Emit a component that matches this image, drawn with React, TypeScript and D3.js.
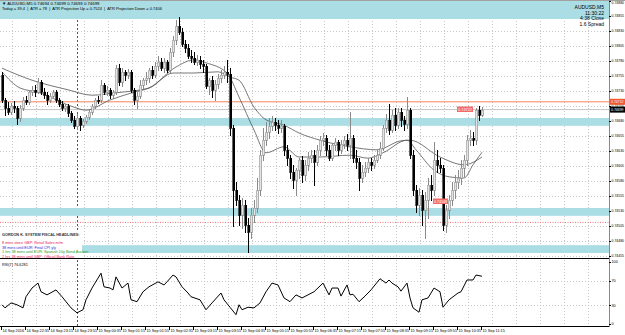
// App.tsx
// AUDUSD M5 candle chart with MAs, zones and an RSI(7) sub-window, drawn with d3 scales
import React from 'react';
import * as d3 from 'd3';

const W = 625;
const H = 335;

// OHLC, one entry per 5 minute bar (bar 0 = 14 Sep 21:55)
const opens = [
  0.74757, 0.74715, 0.74702, 0.74695, 0.74705, 0.74702, 0.74685, 0.74702, 0.74715, 0.74712,
  0.74728, 0.74732, 0.74728, 0.74745, 0.74728, 0.74723, 0.74715, 0.74722, 0.74728, 0.74715,
  0.74708, 0.74702, 0.74705, 0.74693, 0.74682, 0.74672, 0.74685, 0.74673, 0.74680, 0.74687,
  0.74695, 0.74705, 0.74715, 0.74715, 0.74740, 0.74728, 0.74732, 0.74723, 0.74728, 0.74768,
  0.74745, 0.74762, 0.74757, 0.74762, 0.74732, 0.74715, 0.74722, 0.74740, 0.74748, 0.74752,
  0.74765, 0.74757, 0.74772, 0.74778, 0.74768, 0.74778, 0.74765, 0.74795, 0.74815, 0.74838,
  0.74828, 0.74808, 0.74802, 0.74788, 0.74785, 0.74778, 0.74782, 0.74775, 0.74772, 0.74738,
  0.74748, 0.74732, 0.74742, 0.74752, 0.74757, 0.74762, 0.74758, 0.74668, 0.74565, 0.74548,
  0.74523, 0.74540, 0.74507, 0.74495, 0.74523, 0.74535, 0.74565, 0.74623, 0.74648, 0.74662,
  0.74672, 0.74678, 0.74673, 0.74668, 0.74672, 0.74632, 0.74618, 0.74595, 0.74582, 0.74598,
  0.74615, 0.74590, 0.74607, 0.74618, 0.74623, 0.74612, 0.74632, 0.74648, 0.74652, 0.74632,
  0.74618, 0.74640, 0.74645, 0.74632, 0.74642, 0.74648, 0.74640, 0.74652, 0.74618, 0.74612,
  0.74585, 0.74595, 0.74602, 0.74612, 0.74607, 0.74615, 0.74623, 0.74635, 0.74668, 0.74682,
  0.74665, 0.74690, 0.74673, 0.74695, 0.74682, 0.74675, 0.74698, 0.74623, 0.74565, 0.74540,
  0.74557, 0.74532, 0.74548, 0.74573, 0.74565, 0.74615, 0.74607, 0.74602, 0.74507, 0.74532,
  0.74548, 0.74565, 0.74578, 0.74585, 0.74602, 0.74615, 0.74648, 0.74652, 0.74648, 0.74698,
  0.74690,
];
const highs = [
  0.74762, 0.74718, 0.74712, 0.74710, 0.74713, 0.74705, 0.74707, 0.74720, 0.74722, 0.74732,
  0.74738, 0.74740, 0.74752, 0.74748, 0.74735, 0.74728, 0.74727, 0.74732, 0.74732, 0.74718,
  0.74713, 0.74708, 0.74708, 0.74697, 0.74688, 0.74692, 0.74688, 0.74683, 0.74690, 0.74698,
  0.74708, 0.74718, 0.74722, 0.74748, 0.74743, 0.74738, 0.74735, 0.74732, 0.74773, 0.74775,
  0.74768, 0.74765, 0.74767, 0.74765, 0.74735, 0.74728, 0.74748, 0.74752, 0.74762, 0.74768,
  0.74772, 0.74778, 0.74788, 0.74785, 0.74785, 0.74782, 0.74802, 0.74822, 0.74848, 0.74853,
  0.74835, 0.74815, 0.74808, 0.74798, 0.74795, 0.74790, 0.74788, 0.74782, 0.74775, 0.74752,
  0.74755, 0.74748, 0.74758, 0.74765, 0.74772, 0.74782, 0.74768, 0.74673, 0.74578, 0.74557,
  0.74552, 0.74548, 0.74518, 0.74535, 0.74548, 0.74585, 0.74632, 0.74668, 0.74678, 0.74685,
  0.74688, 0.74685, 0.74682, 0.74682, 0.74675, 0.74640, 0.74623, 0.74607, 0.74602, 0.74618,
  0.74622, 0.74615, 0.74628, 0.74632, 0.74632, 0.74640, 0.74655, 0.74660, 0.74657, 0.74640,
  0.74643, 0.74652, 0.74648, 0.74648, 0.74655, 0.74658, 0.74695, 0.74657, 0.74632, 0.74618,
  0.74607, 0.74612, 0.74618, 0.74618, 0.74623, 0.74632, 0.74645, 0.74673, 0.74692, 0.74708,
  0.74698, 0.74702, 0.74702, 0.74702, 0.74688, 0.74720, 0.74702, 0.74632, 0.74573, 0.74568,
  0.74565, 0.74562, 0.74585, 0.74590, 0.74645, 0.74632, 0.74618, 0.74607, 0.74540, 0.74557,
  0.74578, 0.74590, 0.74598, 0.74615, 0.74623, 0.74657, 0.74665, 0.74662, 0.74702, 0.74705,
  0.74703,
];
const lows = [
  0.74712, 0.74690, 0.74692, 0.74692, 0.74695, 0.74675, 0.74680, 0.74698, 0.74708, 0.74708,
  0.74723, 0.74722, 0.74727, 0.74725, 0.74718, 0.74708, 0.74712, 0.74718, 0.74712, 0.74705,
  0.74698, 0.74697, 0.74688, 0.74678, 0.74668, 0.74667, 0.74665, 0.74670, 0.74677, 0.74683,
  0.74692, 0.74702, 0.74710, 0.74712, 0.74725, 0.74723, 0.74718, 0.74718, 0.74725, 0.74740,
  0.74738, 0.74748, 0.74752, 0.74728, 0.74708, 0.74702, 0.74718, 0.74735, 0.74742, 0.74745,
  0.74752, 0.74753, 0.74765, 0.74765, 0.74762, 0.74762, 0.74762, 0.74788, 0.74808, 0.74825,
  0.74805, 0.74795, 0.74785, 0.74778, 0.74775, 0.74773, 0.74768, 0.74762, 0.74735, 0.74725,
  0.74720, 0.74715, 0.74735, 0.74745, 0.74752, 0.74745, 0.74657, 0.74505, 0.74540, 0.74507,
  0.74502, 0.74495, 0.74462, 0.74485, 0.74512, 0.74528, 0.74557, 0.74615, 0.74640, 0.74652,
  0.74665, 0.74665, 0.74660, 0.74662, 0.74623, 0.74607, 0.74585, 0.74568, 0.74557, 0.74585,
  0.74578, 0.74582, 0.74598, 0.74612, 0.74573, 0.74607, 0.74623, 0.74640, 0.74623, 0.74615,
  0.74615, 0.74632, 0.74623, 0.74627, 0.74635, 0.74632, 0.74618, 0.74612, 0.74602, 0.74565,
  0.74578, 0.74588, 0.74595, 0.74598, 0.74602, 0.74612, 0.74618, 0.74632, 0.74662, 0.74658,
  0.74662, 0.74665, 0.74668, 0.74672, 0.74665, 0.74668, 0.74618, 0.74557, 0.74528, 0.74523,
  0.74507, 0.74485, 0.74518, 0.74548, 0.74557, 0.74595, 0.74595, 0.74498, 0.74495, 0.74518,
  0.74540, 0.74552, 0.74568, 0.74575, 0.74588, 0.74607, 0.74640, 0.74640, 0.74642, 0.74682,
  0.74688,
];
const closes = [
  0.74715, 0.74702, 0.74695, 0.74705, 0.74702, 0.74685, 0.74702, 0.74715, 0.74712, 0.74728,
  0.74732, 0.74728, 0.74745, 0.74728, 0.74723, 0.74715, 0.74722, 0.74728, 0.74715, 0.74708,
  0.74702, 0.74705, 0.74693, 0.74682, 0.74672, 0.74685, 0.74673, 0.74680, 0.74687, 0.74695,
  0.74705, 0.74715, 0.74715, 0.74740, 0.74728, 0.74732, 0.74723, 0.74728, 0.74768, 0.74745,
  0.74762, 0.74757, 0.74762, 0.74732, 0.74715, 0.74722, 0.74740, 0.74748, 0.74752, 0.74765,
  0.74757, 0.74772, 0.74778, 0.74768, 0.74778, 0.74765, 0.74795, 0.74815, 0.74838, 0.74828,
  0.74808, 0.74802, 0.74788, 0.74785, 0.74778, 0.74782, 0.74775, 0.74772, 0.74738, 0.74748,
  0.74732, 0.74742, 0.74752, 0.74757, 0.74762, 0.74758, 0.74668, 0.74565, 0.74548, 0.74523,
  0.74540, 0.74507, 0.74495, 0.74523, 0.74535, 0.74565, 0.74623, 0.74648, 0.74662, 0.74672,
  0.74678, 0.74673, 0.74668, 0.74672, 0.74632, 0.74618, 0.74595, 0.74582, 0.74598, 0.74615,
  0.74590, 0.74607, 0.74618, 0.74623, 0.74612, 0.74632, 0.74648, 0.74652, 0.74632, 0.74618,
  0.74640, 0.74645, 0.74632, 0.74642, 0.74648, 0.74640, 0.74652, 0.74618, 0.74612, 0.74585,
  0.74595, 0.74602, 0.74612, 0.74607, 0.74615, 0.74623, 0.74635, 0.74668, 0.74682, 0.74665,
  0.74690, 0.74673, 0.74695, 0.74682, 0.74675, 0.74698, 0.74623, 0.74565, 0.74540, 0.74557,
  0.74532, 0.74548, 0.74573, 0.74565, 0.74615, 0.74607, 0.74602, 0.74507, 0.74532, 0.74548,
  0.74565, 0.74578, 0.74585, 0.74602, 0.74615, 0.74648, 0.74652, 0.74648, 0.74698, 0.74690,
  0.74699,
];

// moving averages at some bars
const maFastBars = [0, 6, 12, 24, 28, 36, 44, 49, 58, 64, 68, 75, 79, 84, 88, 94, 99, 106, 116, 122, 127, 135, 138, 144, 149, 154, 157, 160];
const maFastValues = [0.74762, 0.74735, 0.74728, 0.74703, 0.74698, 0.74715, 0.74728, 0.74735, 0.74770, 0.74782, 0.74777, 0.74760, 0.74720, 0.74665, 0.74627, 0.74637, 0.74620, 0.74620, 0.74623, 0.74618, 0.74627, 0.74648, 0.74632, 0.74598, 0.74587, 0.74585, 0.74607, 0.74628];
const maSlowBars = [0, 10, 22, 30, 38, 49, 57, 64, 72, 76, 79, 84, 88, 94, 99, 106, 116, 125, 133, 136, 146, 154, 160];
const maSlowValues = [0.74768, 0.74748, 0.74732, 0.74723, 0.74727, 0.74735, 0.74760, 0.74760, 0.74762, 0.74753, 0.74748, 0.74703, 0.74682, 0.74673, 0.74660, 0.74648, 0.74637, 0.74632, 0.74647, 0.74648, 0.74620, 0.74607, 0.74620];

// RSI(7)
const rsiBars = [0, 1, 3, 5, 7, 8, 10, 12, 13, 15, 18, 20, 23, 25, 27, 28, 30, 32, 33, 34, 36, 37, 38, 40, 42, 43, 45, 47, 49, 52, 54, 55, 57, 58, 60, 62, 63, 66, 68, 70, 73, 74, 76, 78, 79, 80, 82, 84, 86, 88, 90, 92, 94, 96, 98, 100, 102, 104, 107, 109, 110, 112, 113, 115, 116, 117, 119, 121, 123, 126, 128, 129, 130, 132, 133, 135, 136, 137, 139, 140, 142, 144, 145, 146, 147, 149, 152, 153, 155, 157, 158, 160];
const rsiValues = [31, 26, 34, 31, 26, 44, 58, 66, 52, 47, 55, 44, 26, 18, 23, 39, 58, 74, 82, 60, 58, 55, 76, 58, 66, 39, 36, 52, 60, 68, 63, 68, 79, 76, 60, 50, 44, 39, 23, 34, 50, 39, 27, 15, 31, 23, 27, 26, 34, 52, 66, 63, 42, 36, 47, 42, 47, 52, 66, 47, 58, 58, 45, 63, 47, 48, 36, 45, 55, 73, 66, 71, 66, 60, 53, 66, 42, 26, 19, 39, 42, 58, 55, 52, 27, 39, 50, 52, 71, 71, 79, 77];

// zones (top, bottom) and lines
const zoneTops = [0.74885, 0.74685, 0.74535, 0.74473];
const zoneBottoms = [0.74850, 0.74672, 0.74522, 0.74460];
const orangeLevel = 0.74712;
const redDottedLevel = 0.74511;
const bidPrice = 0.74699;

const priceTicks = [0.74880, 0.74855, 0.74830, 0.74805, 0.74780, 0.74755, 0.74730, 0.74705, 0.74680, 0.74655, 0.74630, 0.74605, 0.74580, 0.74555, 0.74530, 0.74505, 0.74480, 0.74455];
const rsiTicks = [100, 70, 30, 0];
const timeTickBars = [0, 8, 16, 24, 32, 40, 48, 56, 64, 72, 80, 88, 96, 104, 112, 120, 128, 136, 144, 152, 160];
const timeTickLabels = ['14 Sep 2016', '14 Sep 22:35', '14 Sep 23:15', '14 Sep 23:55', '15 Sep 00:35', '15 Sep 01:15', '15 Sep 01:55', '15 Sep 02:35', '15 Sep 03:15', '15 Sep 03:55', '15 Sep 04:35', '15 Sep 05:15', '15 Sep 05:55', '15 Sep 06:35', '15 Sep 07:15', '15 Sep 07:55', '15 Sep 08:35', '15 Sep 09:15', '15 Sep 09:55', '15 Sep 10:35', '15 Sep 11:15'];

const newsLines = [
  'GORDON K. SYSTEM  FISCAL HEADLINES:',
  '8 mins since GBP: Retail Sales m/m',
  '38 mins until EUR: Final CPI y/y',
  '1 hrs 38 mins until EUR: Spanish 10y Bond Auction',
  '2 hrs 38 mins until GBP: Official Bank Rate',
];
const newsColors = ['#333333', '#e8174f', '#1f1fe0', '#1a9a1a', '#e8174f'];

export default function App() {
  const plotRight = 609;
  const x = d3.scaleLinear().domain([0, 160]).range([2, 482]);
  const y = d3.scaleLinear().domain([0.7488, 0.74455]).range([1, 256]);
  const yr = d3.scaleLinear().domain([0, 100]).range([324, 262]);

  const maLine = d3.line<[number, number]>()
    .x(d => x(d[0]))
    .y(d => y(d[1]))
    .curve(d3.curveMonotoneX);
  const rsiLine = d3.line<[number, number]>()
    .x(d => x(d[0]))
    .y(d => yr(d[1]));

  const fastPts = maFastBars.map((b, i) => [b, maFastValues[i]] as [number, number]);
  const slowPts = maSlowBars.map((b, i) => [b, maSlowValues[i]] as [number, number]);
  const rsiPts = rsiBars.map((b, i) => [b, rsiValues[i]] as [number, number]);

  // vertical grid every 24px, horizontal on price ticks
  const vGrid = d3.range(12, plotRight, 24);
  const sepX = x(25) + 0.5; // day separator 15 Sep 00:00

  return (
    <svg width={W} height={H} style={{ position: 'absolute', left: 0, top: 0, background: '#fff' }}
      fontFamily="'Liberation Sans', Arial, sans-serif">
      <rect x={0} y={0} width={W} height={H} fill="#fff" />

      {/* grid */}
      <g stroke="#c8c8c8" strokeDasharray="1,2" strokeWidth={1}>
        {vGrid.map(gx => <line key={'v' + gx} x1={gx + 0.5} x2={gx + 0.5} y1={0} y2={258} />)}
        {vGrid.map(gx => <line key={'vr' + gx} x1={gx + 0.5} x2={gx + 0.5} y1={260} y2={326} />)}
        {priceTicks.map(p => <line key={'h' + p} x1={0} x2={plotRight} y1={Math.round(y(p)) + 0.5} y2={Math.round(y(p)) + 0.5} />)}
        {[70, 30].map(v => <line key={'r' + v} x1={0} x2={plotRight} y1={Math.round(yr(v)) + 0.5} y2={Math.round(yr(v)) + 0.5} />)}
      </g>

      {/* day separator */}
      <line x1={sepX} x2={sepX} y1={0} y2={326} stroke="#555" strokeDasharray="2,2" />

      {/* zones */}
      {zoneTops.map((t, i) => (
        <rect key={'z' + i} x={0} width={plotRight} y={Math.max(0, y(t))} height={y(zoneBottoms[i]) - Math.max(0, y(t))} fill="#aadde4" />
      ))}

      {/* levels */}
      <line x1={0} x2={plotRight} y1={y(orangeLevel)} y2={y(orangeLevel)} stroke="#f0855a" strokeWidth={1} />
      <line x1={0} x2={plotRight} y1={y(bidPrice)} y2={y(bidPrice)} stroke="#c4c4c4" strokeWidth={1} />
      <line x1={0} x2={plotRight} y1={y(redDottedLevel)} y2={y(redDottedLevel)} stroke="#f07070" strokeDasharray="1,1.5" strokeWidth={1} />

      {/* moving averages */}
      <path d={maLine(slowPts) || ''} fill="none" stroke="#555" strokeWidth={0.8} />
      <path d={maLine(fastPts) || ''} fill="none" stroke="#555" strokeWidth={0.8} />

      {/* candles */}
      <g shapeRendering="crispEdges">
        {closes.map((c, i) => {
          const o = opens[i];
          const bull = c > o;
          const cx = Math.round(x(i));
          const top = Math.round(y(Math.max(o, c)));
          const bot = Math.round(y(Math.min(o, c)));
          return (
            <g key={'c' + i}>
              <line x1={cx + 0.5} x2={cx + 0.5} y1={Math.round(y(highs[i]))} y2={Math.round(y(lows[i])) + 1}
                stroke={bull ? '#8a8a8a' : '#000'} />
              <rect x={cx - 0.5} y={top} width={2} height={Math.max(1, bot - top)}
                fill={bull ? '#e4e4e4' : '#000'} stroke={bull ? '#8a8a8a' : '#000'} strokeWidth={0.6} />
            </g>
          );
        })}
      </g>

      {/* on-chart price tags */}
      <rect x={457} y={106.5} width={16} height={5.5} fill="#f26a6a" />
      <text x={458} y={110.9} fontSize={3.8} fill="#fff" textLength={14} lengthAdjust="spacingAndGlyphs">0.74722</text>
      <rect x={433} y={198.5} width={15} height={5.5} fill="#f26a6a" />
      <text x={434} y={202.9} fontSize={3.8} fill="#fff" textLength={13} lengthAdjust="spacingAndGlyphs">0.74548</text>

      {/* news box */}
      <rect x={0} y={231} width={82} height={27} fill="#fff" />
      {newsLines.map((t, i) => (
        <text key={'n' + i} x={2} y={[236, 244, 248.5, 253, 257.5][i]} fontSize={3.8} fill={newsColors[i]}
          fontWeight={i === 0 ? 'bold' : 'normal'}>{t}</text>
      ))}

      {/* header */}
      <text x={2} y={5} fontSize={4.3} fill="#000">▼ AUDUSD,M5  0.74694 0.74699 0.74693 0.74699</text>
      <text x={2} y={10} fontSize={4} fill="#000" xmlSpace="preserve">Today = 39.4  |  ATR = 78  |  ATR Projection Up = 0.7524  |  ATR Projection Down = 0.7406</text>
      <g fontSize={5} fill="#000" textAnchor="end">
        <text x={604} y={9}>AUDUSD,M5</text>
        <text x={604} y={14.5}>11:30:22</text>
        <text x={604} y={20}>4:38 Close</text>
        <text x={604} y={25.5}>1.6 Spread</text>
      </g>

      {/* RSI */}
      <path d={rsiLine(rsiPts) || ''} fill="none" stroke="#000" strokeWidth={1} />
      <text x={2} y={266} fontSize={3.8} fill="#000">RSI(7) 76.6281</text>

      {/* frame */}
      <line x1={0} x2={W} y1={0.5} y2={0.5} stroke="#a0a0a0" />
      <line x1={0} x2={plotRight} y1={258.5} y2={258.5} stroke="#000" strokeWidth={1.2} />
      <line x1={0} x2={plotRight} y1={326.5} y2={326.5} stroke="#000" />
      <line x1={plotRight + 0.5} x2={plotRight + 0.5} y1={0} y2={327} stroke="#888" />

      {/* price axis */}
      <g fontSize={3.8} fill="#000">
        {priceTicks.map(p => (
          <g key={'pt' + p}>
            <line x1={plotRight} x2={plotRight + 2} y1={Math.round(y(p)) + 0.5} y2={Math.round(y(p)) + 0.5} stroke="#000" />
            <text x={611.5} y={Math.max(4, y(p) + 1.4)} textLength={12.5} lengthAdjust="spacingAndGlyphs">{p.toFixed(5)}</text>
          </g>
        ))}
        {rsiTicks.map(v => (
          <g key={'rt' + v}>
            <line x1={plotRight} x2={plotRight + 2} y1={Math.round(yr(v)) + 0.5} y2={Math.round(yr(v)) + 0.5} stroke="#000" />
            <text x={611.5} y={yr(v) + 1.4}>{v}</text>
          </g>
        ))}
      </g>
      <rect x={610} y={y(orangeLevel) - 3} width={15} height={6} fill="#f0582e" />
      <text x={611} y={y(orangeLevel) + 1.4} fontSize={3.8} fill="#fff" textLength={12.5} lengthAdjust="spacingAndGlyphs">{orangeLevel.toFixed(5)}</text>
      <rect x={610} y={y(bidPrice) - 3} width={15} height={6} fill="#000" />
      <text x={611} y={y(bidPrice) + 1.4} fontSize={3.8} fill="#fff" textLength={12.5} lengthAdjust="spacingAndGlyphs">{bidPrice.toFixed(5)}</text>

      {/* time axis */}
      <g fontSize={3.8} fill="#000">
        {timeTickBars.map((b, i) => (
          <g key={'tt' + b}>
            <line x1={Math.round(x(b)) - 0.5} x2={Math.round(x(b)) - 0.5} y1={326} y2={330} stroke="#000" />
            <text x={x(b) + 0.5} y={331.5}>{timeTickLabels[i]}</text>
          </g>
        ))}
      </g>
    </svg>
  );
}
